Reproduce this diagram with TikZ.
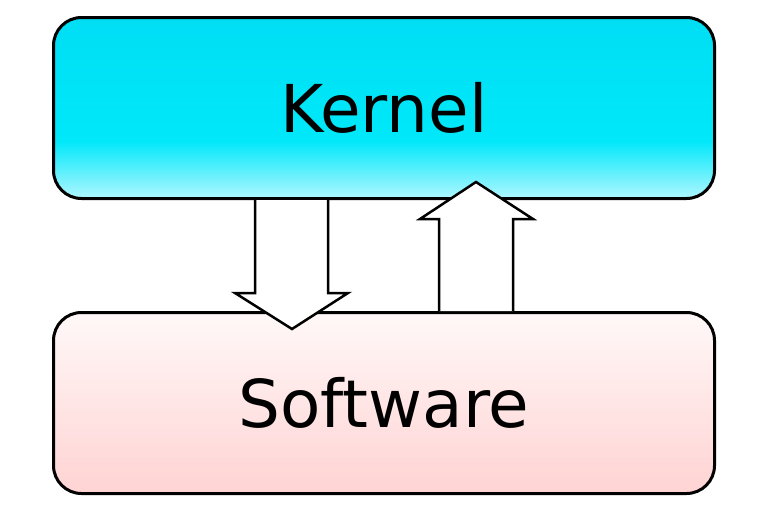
\documentclass[tikz,border=0pt]{standalone}
\usepackage{fontspec}
\setmainfont{DejaVu Sans}
\usetikzlibrary{calc}
\definecolor{ktop}{HTML}{00DEF4}
\definecolor{kmid}{HTML}{00E8FA}
\definecolor{kbot}{HTML}{B0F7FF}
\definecolor{stop}{HTML}{FFF8F8}
\definecolor{sbot}{HTML}{FFD3D3}
\pgfdeclareverticalshading{kshade}{100bp}{color(0bp)=(kbot); color(25bp)=(kbot); color(41bp)=(kmid); color(75bp)=(ktop); color(100bp)=(ktop)}
\pgfdeclareverticalshading{sshade}{100bp}{color(0bp)=(sbot); color(25bp)=(sbot); color(75bp)=(stop); color(100bp)=(stop)}
\tikzset{
  layerbox/.style={draw=black, line width=3pt, rounded corners=28pt,
    minimum width=661pt, minimum height=181pt, inner sep=0pt,
    font=\fontsize{66}{80}\selectfont, text=black},
  blockarrow/.style={draw=black, fill=white, line width=2.5pt, line join=miter}
}
\begin{document}
\begin{tikzpicture}[x=1pt, y=-1pt]
\useasboundingbox[fill=white] (0,0) rectangle (768,512);
\node[layerbox, shading=kshade] (kernel) at (384,108) {Kernel};
\node[layerbox, shading=sshade] (software) at (384,403) {Software};
% down arrow (Kernel -> Software)
\coordinate (d1) at (255,0 |- kernel.south);
\coordinate (d2) at (328,0 |- kernel.south);
\fill[white] (d1) -- (255,293) -- (235,293) -- (292,329) -- (348,293) -- (328,293) -- (d2) -- cycle;
\draw[blockarrow, fill=none] (d1) -- (255,293) -- (235,293) -- (292,329) -- (348,293) -- (328,293) -- (d2);
% up arrow (Software -> Kernel)
\coordinate (u1) at (439,0 |- software.north);
\coordinate (u2) at (513,0 |- software.north);
\fill[white] (u1) -- (439,219) -- (420,219) -- (476,182) -- (533,219) -- (513,219) -- (u2) -- cycle;
\draw[blockarrow, fill=none] (u1) -- (439,219) -- (420,219) -- (476,182) -- (533,219) -- (513,219) -- (u2);
\end{tikzpicture}
\end{document}
